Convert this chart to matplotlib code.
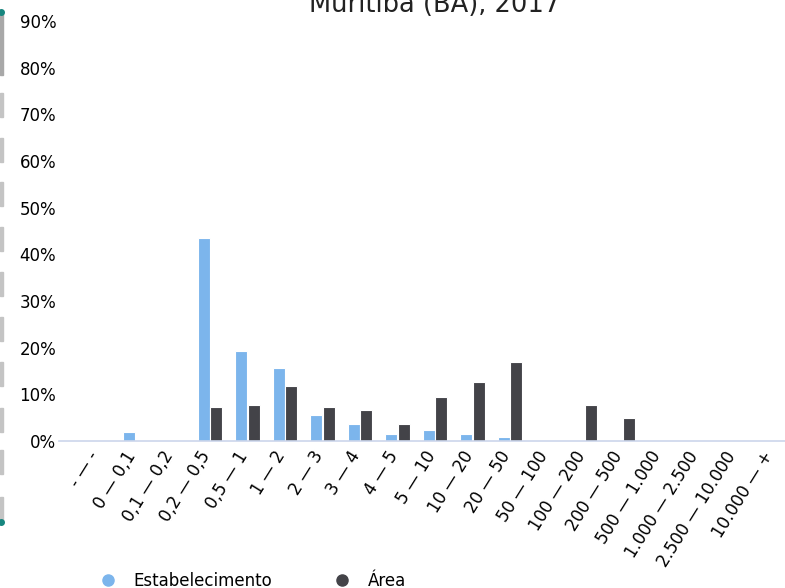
import numpy as np
import matplotlib
matplotlib.use("Agg")
import matplotlib.pyplot as plt
from matplotlib.lines import Line2D
from matplotlib.patches import Rectangle
from matplotlib.ticker import FuncFormatter
from matplotlib.transforms import ScaledTranslation

categorias = ["- — -", "0 — 0,1", "0,1 — 0,2", "0,2 — 0,5", "0,5 — 1", "1 — 2",
              "2 — 3", "3 — 4", "4 — 5", "5 — 10", "10 — 20", "20 — 50",
              "50 — 100", "100 — 200", "200 — 500", "500 — 1.000",
              "1.000 — 2.500", "2.500 — 10.000", "10.000 — +"]
estabelecimento = [0, 1.9, 0, 43.5, 19.3, 15.6, 5.6, 3.6, 1.4, 2.3, 1.4, 0.8,
                   0, 0, 0, 0, 0, 0, 0]
area = [0, 0, 0, 7.3, 7.7, 11.8, 7.3, 6.6, 3.6, 9.4, 12.6, 17.0,
        0, 7.7, 4.9, 0, 0, 0, 0]

cor_estab = "#7cb5ec"
cor_area = "#434348"

plt.rcParams["font.family"] = "DejaVu Sans"
fig = plt.figure(figsize=(7.85, 5.88), dpi=100)
ax = fig.add_axes([59 / 785, 147 / 588, 732 / 785, 420 / 588])

x = np.arange(len(categorias))
ax.bar(x - 0.17, estabelecimento, width=0.32, color=cor_estab,
       edgecolor="white", linewidth=0.8, label="Estabelecimento")
ax.bar(x + 0.17, area, width=0.32, color=cor_area,
       edgecolor="white", linewidth=0.8, label="Área")

ax.set_xlim(-1.03, 18.5)
ax.set_ylim(0, 90)
ax.set_yticks(range(0, 91, 10))
ax.yaxis.set_major_formatter(FuncFormatter(lambda v, p: f"{v:.0f}%"))
ax.tick_params(axis="y", length=0, labelsize=12, pad=2)

ax.set_xticks(x)
ax.set_xticklabels(categorias, rotation=58, ha="right", va="top",
                   rotation_mode="anchor", fontsize=12)
ax.tick_params(axis="x", length=0, pad=5)
desloc = ScaledTranslation(-11 / 100, 0, fig.dpi_scale_trans)
for rot in ax.get_xticklabels():
    rot.set_transform(rot.get_transform() + desloc)

for s in ["top", "right", "left"]:
    ax.spines[s].set_visible(False)
ax.spines["bottom"].set_color("#ccd6eb")
ax.spines["bottom"].set_linewidth(1.2)

fig.text(435 / 785, 1 - 12 / 588, "Muritiba (BA), 2017", ha="center",
         va="baseline", fontsize=18.5, color="#222222")

handles = [Line2D([], [], marker="o", linestyle="none", color=cor_estab, markersize=8),
           Line2D([], [], marker="o", linestyle="none", color=cor_area, markersize=8)]
fig.legend(handles, ["Estabelecimento", "Área"], loc="center left",
           bbox_to_anchor=(83 / 785, 1 - 581 / 588), ncol=2, frameon=False,
           fontsize=12, handletextpad=0.95, columnspacing=3.55, handlelength=1.2)

# faixa cinza tracejada na borda esquerda (captura da página)
fig.patches.append(Rectangle((0, 1 - 75 / 588), 3 / 785, 62 / 588,
                             transform=fig.transFigure, color="#a8a8a8"))
for topo in [93, 138, 182, 227, 272, 317, 362, 408, 450, 497]:
    fig.patches.append(Rectangle((0, 1 - (topo + 24) / 588), 3 / 785, 24 / 588,
                                 transform=fig.transFigure, color="#c4c4c4"))
for yy in [12, 522]:
    fig.add_artist(Line2D([1 / 785], [1 - yy / 588], marker="o", markersize=4,
                          color="#17867f", transform=fig.transFigure))

fig.savefig("out.png", dpi=100)
